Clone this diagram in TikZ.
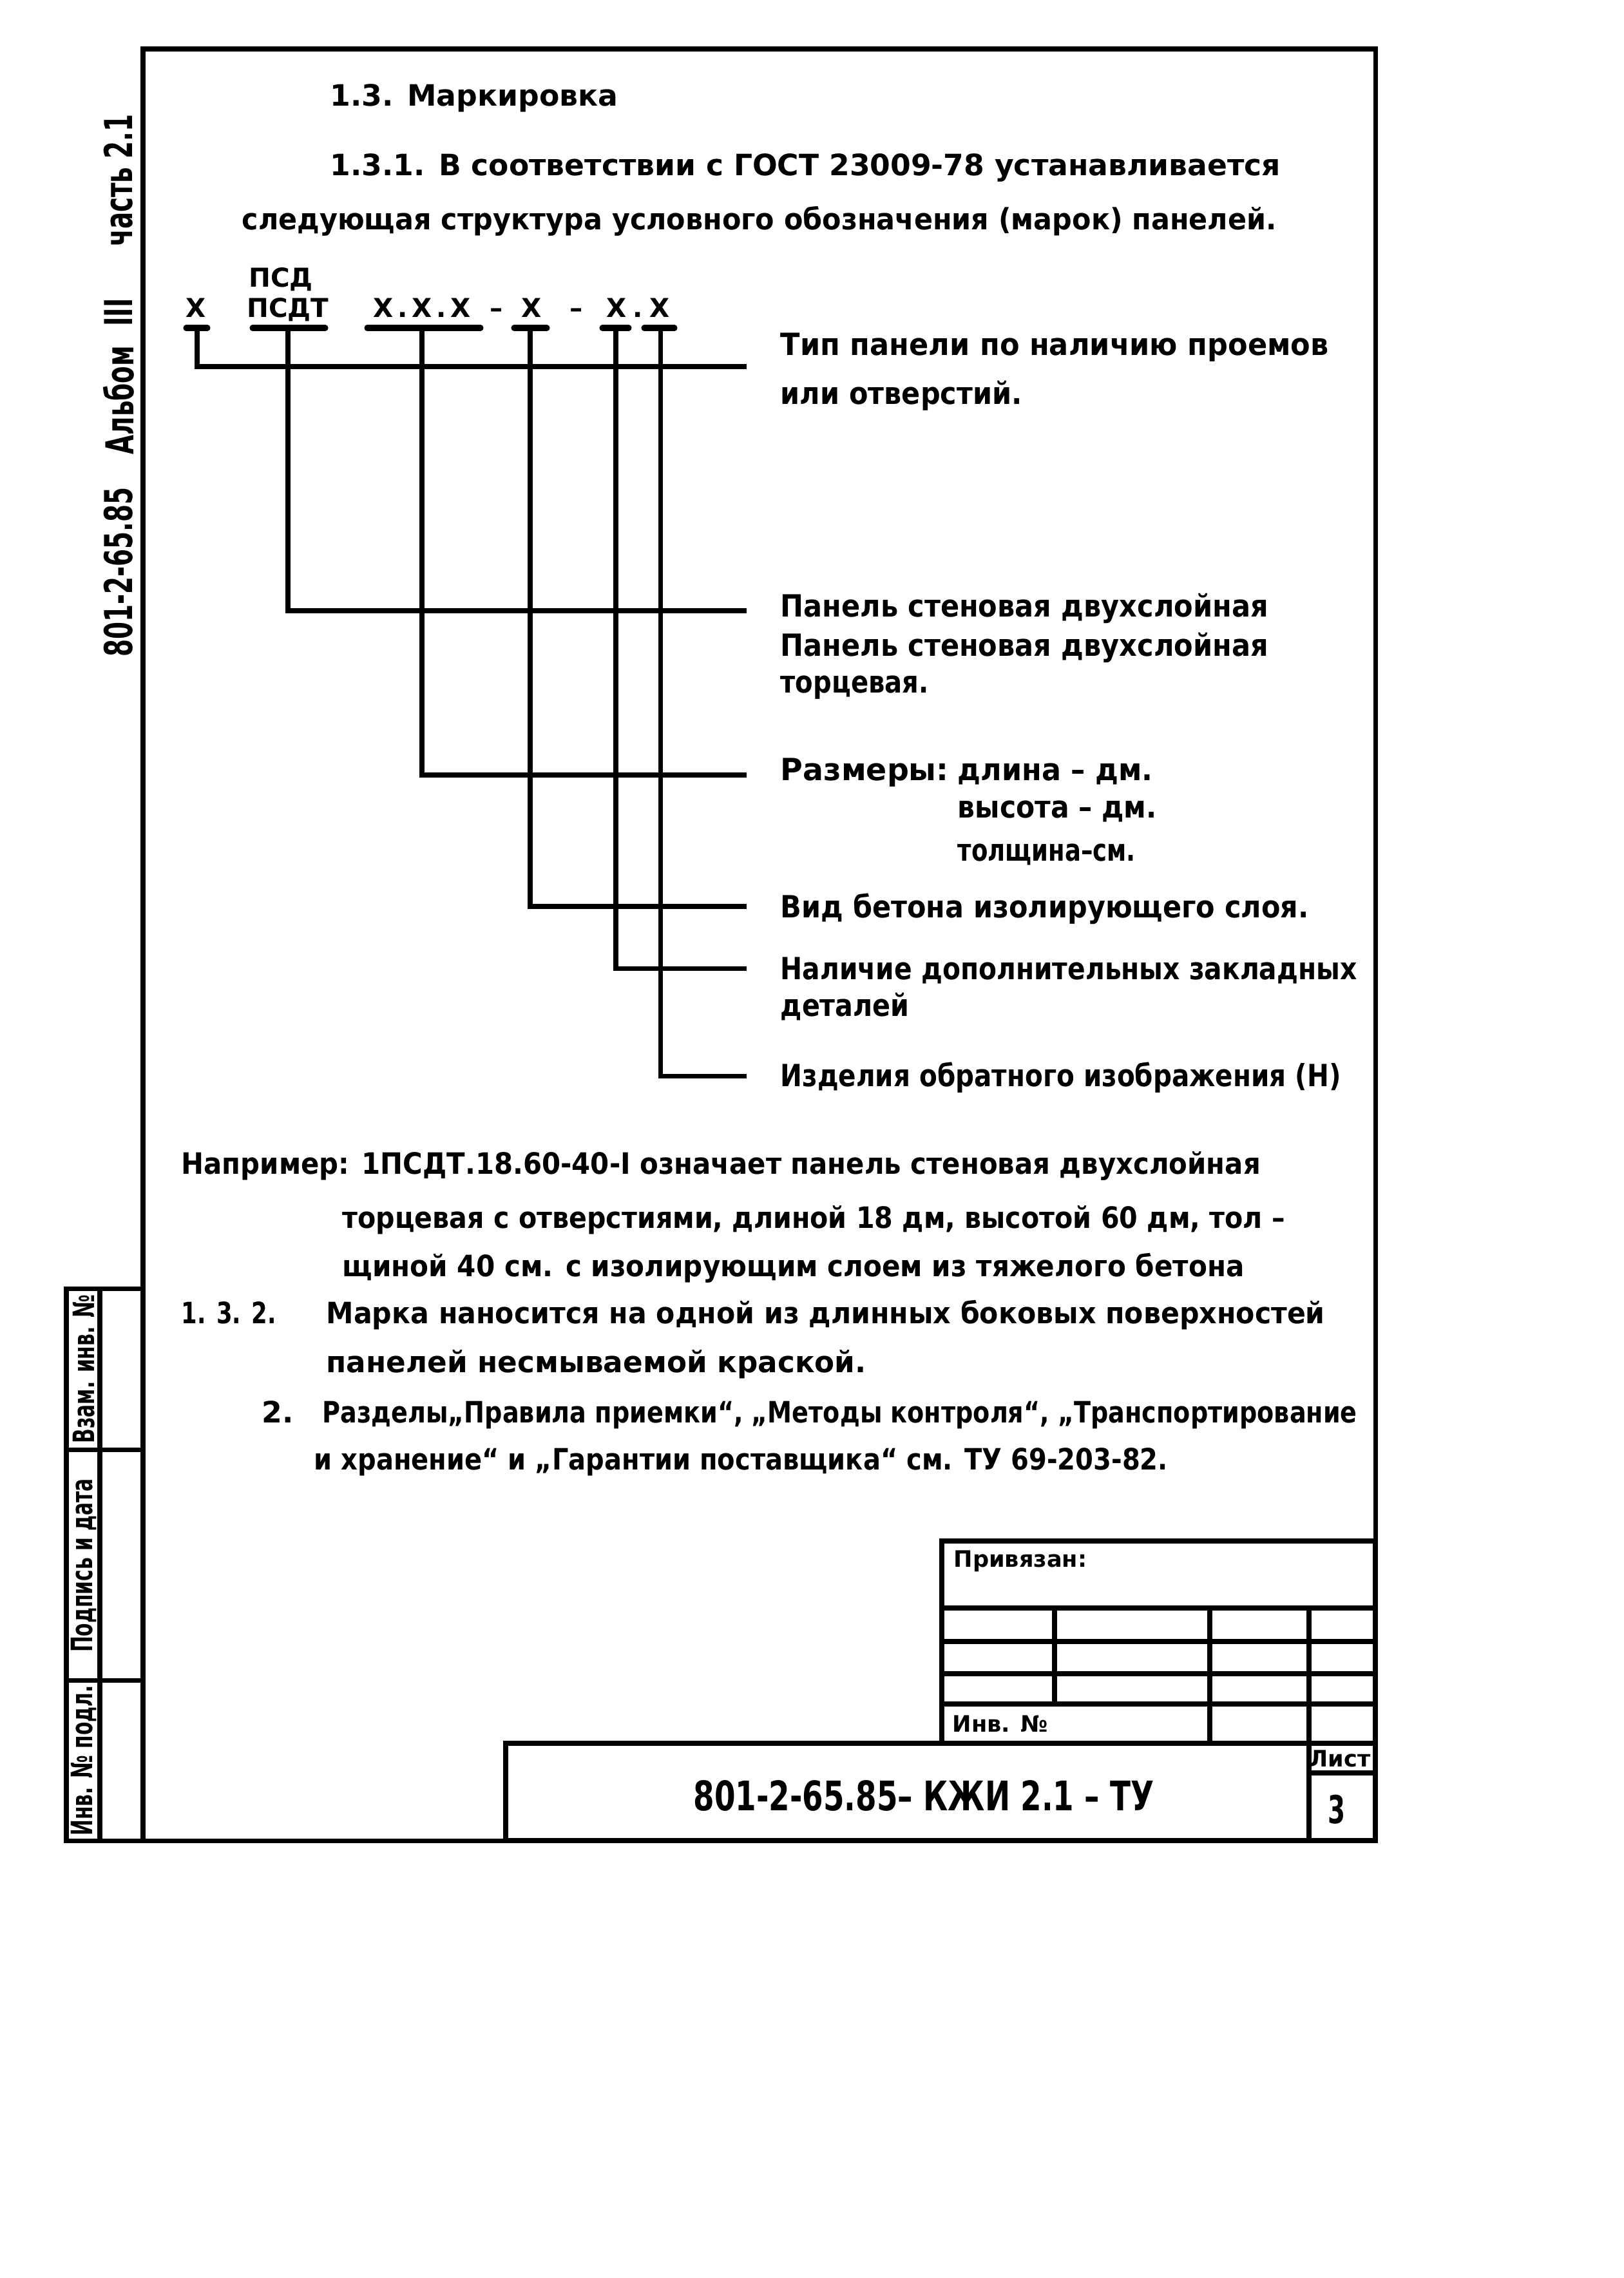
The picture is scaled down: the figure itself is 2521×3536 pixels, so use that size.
\documentclass[tikz,border=0pt]{standalone}
\usepackage{graphicx}
\usepackage{fontspec}
\setmainfont{DejaVu Sans}
\newfontfamily\narrowfont{DejaVu Sans}[FakeStretch=0.65]
\newfontfamily\stampfont{DejaVu Sans}[FakeStretch=0.74]
% stretch a line of text to the width it has on the sheet
\newcommand{\fitw}[2]{\resizebox{#1}{\height}{#2}}

\begin{document}
\begin{tikzpicture}[
    x=0.1mm, y=-0.1mm,
    every node/.style={inner sep=0pt, font=\bfseries\fontsize{13}{15}\selectfont},
    frame/.style={line width=2pt},
    grid/.style={line width=2.2pt},
    link/.style={line width=2pt, line join=miter},
    codebar/.style={line width=2.6pt, line cap=round},
    txt/.style={anchor=base west},
    lbl/.style={anchor=base west, font=\bfseries\fontsize{13.5}{15}\selectfont},
    code/.style={anchor=base, font=\bfseries\fontsize{11.5}{13}\selectfont},
    side/.style={rotate=90, font=\narrowfont\bfseries\fontsize{17}{19}\selectfont},
    stripnote/.style={rotate=90, font=\narrowfont\bfseries\fontsize{13}{15}\selectfont},
    stamp/.style={font=\bfseries\fontsize{10}{12}\selectfont}
]
\useasboundingbox (0,0) rectangle (2521,3536);

% Sheet frame
\draw[frame] (222,76) rectangle (2135,2857);

% Side inscription
\node[side] (album1) at (184,888) {801-2-65.85};
\node[side] (album2) at (184,621) {Альбом};
\node[side] (album3) at (184,485) {III};
\node[side] (album4) at (184,280) {часть 2.1};

% Left strip
\draw[frame] (103,2000) rectangle (222,2857);
\draw[frame] (155,2000) -- (155,2857);
\draw[frame] (103,2250) -- (222,2250);
\draw[frame] (103,2608) -- (222,2608);
\node[stripnote] (strip1) at (130,2125) {Взам. инв. №};
\node[stripnote] (strip2) at (130,2430) {Подпись и дата};
\node[stripnote] (strip3) at (130,2733) {Инв. № подл.};

% Heading and first paragraph
\node[txt] (head) at (512,165) {1.3. Маркировка};
\node[txt] (p131) at (512,273) {\fitw{147.5mm}{1.3.1. В соответствии с ГОСТ 23009-78 устанавливается}};
\node[txt] (p131b) at (375,357) {\fitw{160.6mm}{следующая структура условного обозначения (марок) панелей.}};

% Structure of the mark
\node[code] (m2top) at (436,446) {ПСД};
\node[code] (m1) at (304,492) {Х};
\node[code] (m2) at (447,492) {ПСДТ};
\node[code] (m3) at (655,492) {Х\,.\,Х\,.\,Х};
\node[code] (d1) at (771,492) {–};
\node[code] (m4) at (825,492) {Х};
\node[code] (d2) at (895,492) {–};
\node[code] (m5) at (957,492) {Х};
\node[code] (pt) at (990,492) {.};
\node[code] (m6) at (1024,492) {Х};

\foreach \a/\b in {289/322, 392/505, 570/746, 798/849, 935/976, 1000/1047}
    \draw[codebar] (\a,509) -- (\b,509);

\coordinate (b1) at (306,509);
\coordinate (b2) at (447,509);
\coordinate (b3) at (655,509);
\coordinate (b4) at (823,509);
\coordinate (b5) at (956,509);
\coordinate (b6) at (1025,509);

\coordinate (e1) at (1159,569);
\coordinate (e2) at (1159,948);
\coordinate (e3) at (1159,1203);
\coordinate (e4) at (1159,1407);
\coordinate (e5) at (1159,1503);
\coordinate (e6) at (1159,1670);

\foreach \i in {1,...,6}
    \draw[link] (b\i) |- (e\i);

% Meaning of each position
\node[lbl] (l1) at (1211,551) {\fitw{85.1mm}{Тип панели по наличию проемов}};
\node[lbl] (l1b) at (1211,627) {\fitw{37.5mm}{или отверстий.}};
\node[lbl] (l2) at (1211,957) {\fitw{75.7mm}{Панель стеновая двухслойная}};
\node[lbl] (l2b) at (1211,1018) {\fitw{75.7mm}{Панель стеновая двухслойная}};
\node[lbl] (l2c) at (1211,1075) {\fitw{23mm}{торцевая.}};
\node[lbl] (l3) at (1211,1211) {Размеры:};
\node[lbl] (l3a) at (1486,1211) {\fitw{30.3mm}{длина – дм.}};
\node[lbl] (l3b) at (1486,1269) {\fitw{30.9mm}{высота – дм.}};
\node[lbl] (l3c) at (1486,1336) {\fitw{27.6mm}{толщина–см.}};
\node[lbl] (l4) at (1211,1424) {\fitw{82mm}{Вид бетона изолирующего слоя.}};
\node[lbl] (l5) at (1211,1520) {\fitw{89.5mm}{Наличие дополнительных закладных}};
\node[lbl] (l5b) at (1211,1577) {\fitw{20mm}{деталей}};
\node[lbl] (l6) at (1211,1686) {\fitw{87mm}{Изделия обратного изображения (Н)}};

% Example and further clauses
\node[txt] (ex1) at (281,1822) {\fitw{167.5mm}{Например: 1ПСДТ.18.60-40-I означает панель стеновая двухслойная}};
\node[txt] (ex2) at (531,1906) {\fitw{146.3mm}{торцевая с отверстиями, длиной 18 дм, высотой 60 дм, тол –}};
\node[txt] (ex3) at (531,1981) {\fitw{140mm}{щиной 40 см. с изолирующим слоем из тяжелого бетона}};
\node[txt] (n132) at (281,2054) {\fitw{14.7mm}{1. 3. 2.}};
\node[txt] (p132) at (506,2054) {\fitw{155mm}{Марка наносится на одной из длинных боковых поверхностей}};
\node[txt] (p132b) at (506,2130) {\fitw{83.8mm}{панелей несмываемой краской.}};
\node[txt] (n2) at (406,2208) {2.};
\node[txt] (p2) at (500,2208) {\fitw{160.6mm}{Разделы„Правила приемки“, „Методы контроля“, „Транспортирование}};
\node[txt] (p2b) at (487,2281) {\fitw{132.5mm}{и хранение“ и „Гарантии поставщика“ см. ТУ 69-203-82.}};

% Title block
\draw[grid] (1462,2392) rectangle (2135,2706);
\foreach \y in {2496,2548,2598,2645}
    \draw[grid] (1462,\y) -- (2135,\y);
\draw[grid] (1637,2496) -- (1637,2645);
\draw[grid] (1878,2496) -- (1878,2706);
\draw[grid] (2032,2496) -- (2032,2857);
\draw[grid] (785,2706) rectangle (2135,2857);
\draw[grid] (2032,2752) -- (2135,2752);

\node[stamp, anchor=base west] (bound) at (1480,2432) {Привязан:};
\node[stamp, anchor=base west] (invno) at (1478,2688) {Инв. №};
\node[stamp] (sheetlbl) at (2080,2730) {Лист};
\node[font=\narrowfont\bfseries\fontsize{17}{19}\selectfont] (sheetno) at (2075,2809) {3};
\node[font=\stampfont\bfseries\fontsize{18}{20}\selectfont] (docno) at (1434,2787) {801-2-65.85– КЖИ 2.1 – ТУ};

\end{tikzpicture}
\end{document}
